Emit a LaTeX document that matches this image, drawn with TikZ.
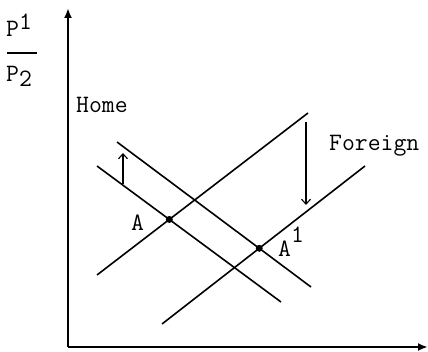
\documentclass[tikz,border=0pt]{standalone}
\usepackage{fontspec}
\usetikzlibrary{arrows.meta}
\tikzset{
  axis/.style={-{Latex[length=10pt,width=8pt]}, line width=2pt},
  curve/.style={line width=1.6pt},
  move/.style={-{Straight Barb[length=5pt,width=9pt]}, line width=1.1pt},
  lbl/.style={font=\fontsize{25}{28}\selectfont\ttfamily, inner sep=0pt, anchor=base west},
  eq/.style={circle, fill, inner sep=0pt, minimum size=7pt}
}
\begin{document}
\begin{tikzpicture}[x=1pt,y=-1pt]
  \useasboundingbox (0,0) rectangle (428,352);
  % axes
  \coordinate (origin) at (68,347);
  \coordinate (ytop) at (68,8);
  \coordinate (xend) at (428,347);
  \draw[axis] (origin) -- (ytop);
  \draw[axis] (origin) -- (xend);

  % axis label
  \node[lbl] (num) at (6,37) {P\raisebox{7pt}{1}};
  \node[lbl] (den) at (6,82) {P\raisebox{-5pt}{2}};
  \draw[line width=1.3pt] (7,53) -- (37,53);

  % Home curves
  \coordinate (home1s) at (97,166);
  \coordinate (home1e) at (281,302);
  \coordinate (home2s) at (117,142);
  \coordinate (home2e) at (311,287);
  % Foreign curves
  \coordinate (for1s) at (97,275);
  \coordinate (for1e) at (308,113);
  \coordinate (for2s) at (162,324);
  \coordinate (for2e) at (365,166);

  \draw[curve] (home1s) -- (home1e);
  \draw[curve] (home2s) -- (home2e);
  \draw[curve] (for1s) -- (for1e);
  \draw[curve] (for2s) -- (for2e);

  \node[eq] (ptA) at (intersection of home1s--home1e and for1s--for1e) {};
  \node[eq] (ptA1) at (intersection of home2s--home2e and for2s--for2e) {};

  % shifts
  \coordinate (hup0) at (123,184);
  \coordinate (hup1) at (123,153);
  \coordinate (fdn0) at (306,122);
  \coordinate (fdn1) at (306,205);
  \draw[move] (hup0) -- (hup1);
  \draw[move] (fdn0) -- (fdn1);

  % labels
  \node[lbl] (home) at (76,113) {Home};
  \node[lbl] (foreign) at (329,151) {Foreign};
  \node[lbl] (labA) at (131,231) {A};
  \node[lbl] (labA1) at (278,257) {A\raisebox{14pt}{1}};
\end{tikzpicture}
\end{document}
